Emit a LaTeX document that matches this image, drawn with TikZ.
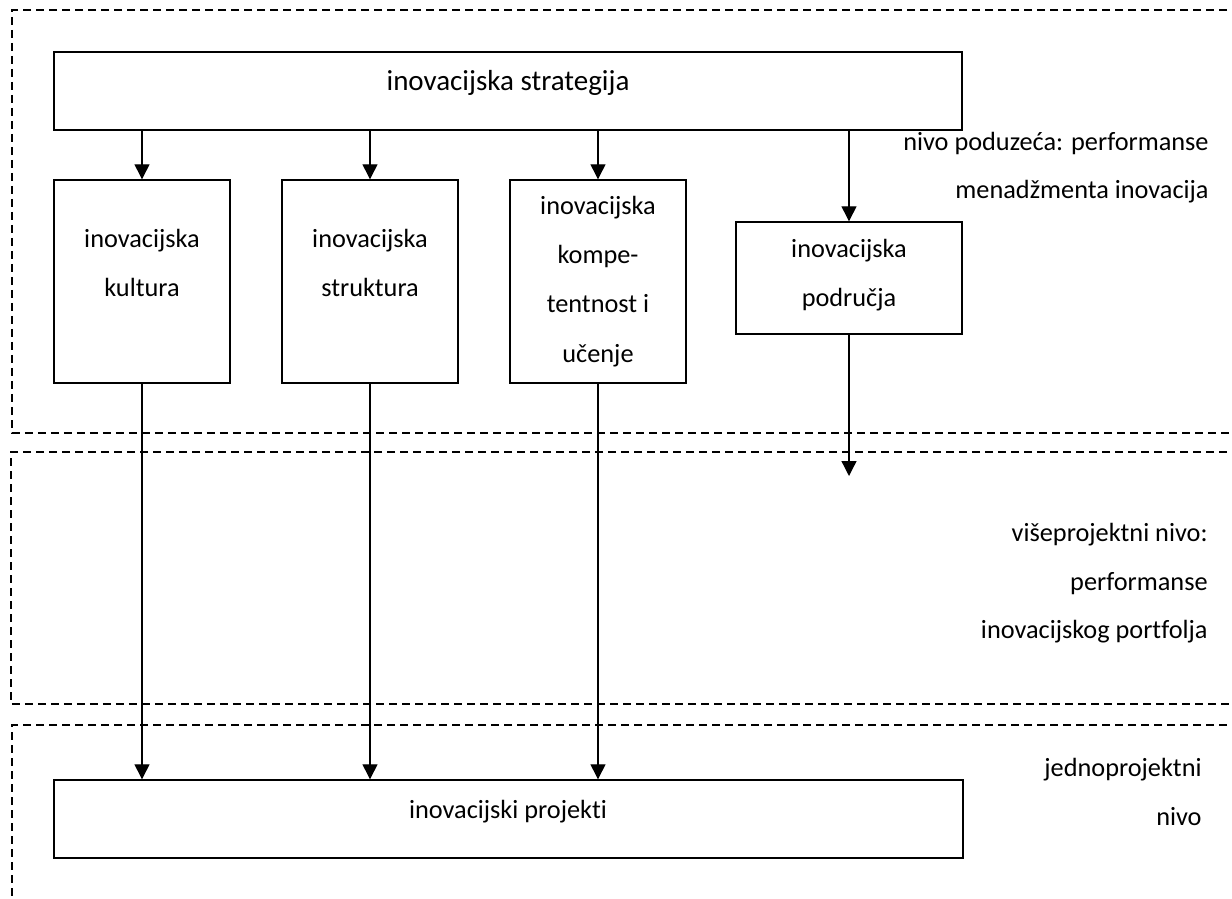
\documentclass[tikz,border=0pt]{standalone}
\usepackage{fontspec}
\setmainfont{Carlito}[Ligatures={NoCommon,NoContextual}]
\usetikzlibrary{arrows.meta}
\begin{document}
\begin{tikzpicture}[x=0.5pt,y=-0.5pt,
  box/.style={draw, line width=0.7pt, inner sep=0pt, rectangle},
  lbl/.style={align=center, inner sep=0pt, font=\fontsize{13.15pt}{24.6pt}\selectfont},
  side/.style={align=right, inner sep=0pt, anchor=east, font=\fontsize{13.15pt}{24.2pt}\selectfont},
  arr/.style={line width=0.65pt, -{Triangle[length=7.5pt,width=7.5pt]}},
  zone/.style={line width=0.65pt, dash pattern=on 4pt off 2.5pt}]
\clip (0,0) rectangle (1232,899);
% dashed zones (open on the right)
\draw[zone] (1240,10) -- (12,10) -- (12,433) -- (1240,433);
\draw[zone] (1240,452) -- (11,452) -- (11,704) -- (1240,704);
\draw[zone] (1240,725) -- (12,725) -- (12,910);
% boxes
\node[box, minimum width=454pt, minimum height=39pt] (strat) at (508,91) {};
\node[box, minimum width=88pt, minimum height=101.5pt] (kult) at (142,281.5) {};
\node[box, minimum width=88pt, minimum height=101.5pt] (strukt) at (370,281.5) {};
\node[box, minimum width=88pt, minimum height=101.5pt] (komp) at (598,281.5) {};
\node[box, minimum width=113pt, minimum height=56pt] (podr) at (849,278) {};
\node[box, minimum width=454.5pt, minimum height=39pt] (proj) at (508.5,819) {};
% box texts
\node[lbl, font=\fontsize{14.5pt}{24.6pt}\selectfont] (stratT) at (508,83) {inovacijska strategija};
\node[lbl] (kultT) at (142,263) {inovacijska\\kultura};
\node[lbl] (struktT) at (370,263) {inovacijska\\struktura};
\node[lbl] (kompT) at (598,281.5) {inovacijska\\kompe-\\tentnost i\\učenje};
\node[lbl] (podrT) at (849,275) {inovacijska\\područja};
\node[lbl] (projT) at (508,812) {inovacijski projekti};
% side labels
\node[side] (lev1) at (1209,167.5) {nivo poduzeća: performanse\\menadžmenta inovacija};
\node[side] (lev2) at (1208,583.5) {višeprojektni nivo:\\performanse\\inovacijskog portfolja};
\node[side] (lev3) at (1202,792) {jednoprojektni\\nivo};
% connectors
\coordinate (podrEnd) at (849,476);
\draw[arr] (kult.north |- strat.south) -- (kult.north);
\draw[arr] (strukt.north |- strat.south) -- (strukt.north);
\draw[arr] (komp.north |- strat.south) -- (komp.north);
\draw[arr] (podr.north |- strat.south) -- (podr.north);
\draw[arr] (podr.south) -- (podrEnd);
\draw[arr] (kult.south) -- (kult.south |- proj.north);
\draw[arr] (strukt.south) -- (strukt.south |- proj.north);
\draw[arr] (komp.south) -- (komp.south |- proj.north);
\end{tikzpicture}
\end{document}
